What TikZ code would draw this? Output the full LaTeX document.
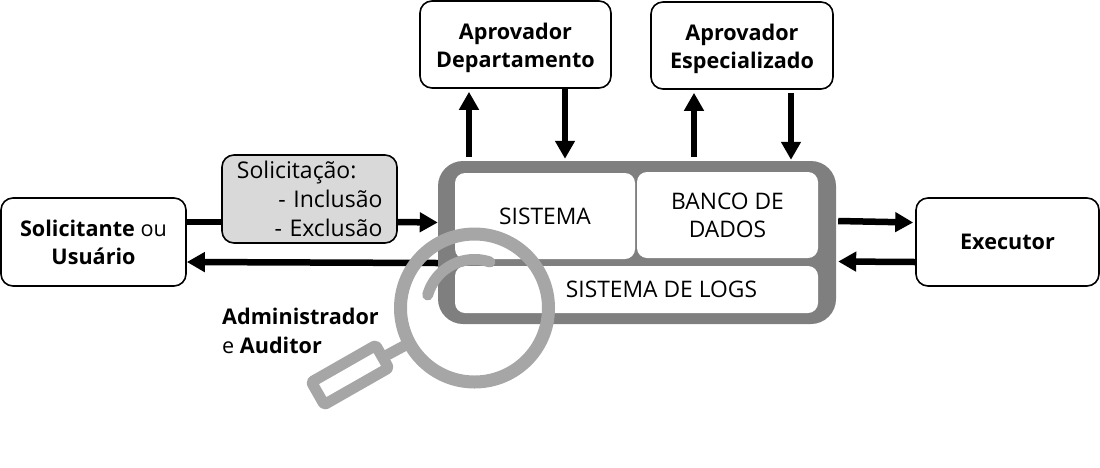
\documentclass[tikz,border=0pt]{standalone}
\usepackage{fontspec}
\setmainfont{Open Sans}
\usetikzlibrary{arrows.meta}
\definecolor{framegray}{HTML}{7F7F7F}
\definecolor{lensgray}{HTML}{A6A6A6}
\definecolor{reqgray}{HTML}{D9D9D9}
\begin{document}
\begin{tikzpicture}[
    x=1pt,y=-1pt,
    actor/.style={draw=black, line width=1.6pt, fill=white, rounded corners=12pt, align=center,
      minimum height=88pt, inner sep=0pt, font=\fontsize{21.6}{28}\selectfont},
    inbox/.style={fill=white, rounded corners=10pt, align=center, inner sep=0pt,
      font=\fontsize{22.8}{28}\selectfont},
    arw/.style={line width=6.5pt, -{Triangle[length=18pt,width=19pt]}},
    lens/.style={draw=lensgray, line width=13pt, circle, minimum size=148pt, outer sep=0pt},
    ]
    \useasboundingbox (0, 0) rectangle (1100, 467);
    % outer boxes
    \node[actor, minimum width=185pt] (solicitante) at (93.5, 242) {\textbf{Solicitante} ou\\\textbf{Usuário}};
    \node[actor, minimum width=191pt, minimum height=87pt] (aprovdep) at (515.5, 44.5) {\rule{0pt}{24pt}\textbf{Aprovador}\\\textbf{Departamento}};
    \node[actor, minimum width=182pt, minimum height=87pt] (aprovesp) at (742, 45.5) {\rule{0pt}{24pt}\textbf{Aprovador}\\\textbf{Especializado}};
    \node[actor, minimum width=183pt] (executor) at (1007.5, 242) {\textbf{Executor}};
    % system
    \node[fill=framegray, rounded corners=25pt, minimum width=398pt, minimum height=163pt, inner sep=0pt] (sistemaout) at (637, 242.5) {};
    \node[inbox, minimum width=180pt, minimum height=86pt] (sistema) at (545, 216) {SISTEMA};
    \node[inbox, minimum width=181pt, minimum height=86pt] (banco) at (727.5, 215) {BANCO DE\\DADOS};
    \node[inbox, minimum width=363pt, minimum height=47pt] (logs) at (636.5, 289.5) {\hspace*{50pt}SISTEMA DE LOGS};
    % arrows
    \draw[line width=6.5pt] ([yshift=20pt]solicitante.east) -- (222, 222);
    \draw[arw] (398, 222) -- ([yshift=20pt]sistemaout.west);
    \draw[arw] ([yshift=-20.5pt]sistemaout.west) -- ([yshift=-20pt]solicitante.east);
    \draw[arw] ([xshift=-168pt,yshift=4pt]sistemaout.north) -- ([xshift=-46.5pt,yshift=-3pt]aprovdep.south);
    \draw[arw] ([xshift=49.5pt]aprovdep.south) -- ([xshift=-72pt,yshift=2pt]sistemaout.north);
    \draw[arw] ([xshift=57pt,yshift=4pt]sistemaout.north) -- ([xshift=-48pt,yshift=-3pt]aprovesp.south);
    \draw[arw] ([xshift=49pt,yshift=-3pt]aprovesp.south) -- ([xshift=154pt,yshift=1pt]sistemaout.north);
    \draw[arw] ([xshift=2pt,yshift=21.5pt]sistemaout.east) -- ([xshift=-2pt,yshift=19.5pt]executor.west);
    \draw[arw] ([yshift=-20pt]executor.west) -- ([xshift=2pt,yshift=-19pt]sistemaout.east);
    % request
    \node[draw=black, line width=1.6pt, fill=reqgray, rounded corners=12pt, minimum width=175pt, minimum height=88pt,
      text width=146pt, align=right, inner sep=0pt, font=\fontsize{23}{29}\selectfont] (pedido) at (309.5, 199)
      {Solicitação:\hspace*{26pt}\mbox{}\\- Inclusão\\- Exclusão};
    % magnifier
    \node[lens] (lupa) at (474.5, 308) {};
    \node[draw=lensgray, fill=white, line width=11pt, rounded corners=2pt, line join=round, rotate=29.7,
      minimum width=74pt, minimum height=26pt, inner sep=0pt, outer sep=0pt] (cabo) at (350, 375) {};
    \draw[lensgray, line width=11pt] (lupa) -- (cabo);
    \draw[lensgray, line width=11pt, line cap=round] (427.7, 295) arc[start angle=-164.5, end angle=-71.4, radius=48.5];
    \node[anchor=west, align=left, inner sep=0pt, font=\fontsize{21.6}{29}\selectfont] (admin) at (222, 331) {\textbf{Administrador}\\e \textbf{Auditor}};
  \end{tikzpicture}
\end{document}
